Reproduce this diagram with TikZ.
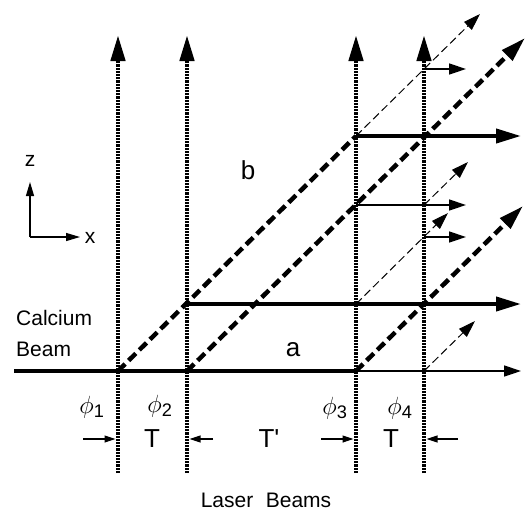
\documentclass[tikz,border=0pt]{standalone}
\usepackage{amsmath}
\usepackage{fontspec}
\setmainfont{Liberation Sans}
\newfontfamily\rawsans[Ligatures=ResetAll]{Liberation Sans}
\usetikzlibrary{arrows.meta}

\begin{document}
\begin{tikzpicture}[x=1pt,y=-1pt,
		laser/.style={line width=4.5pt, dash pattern=on 2.2pt off 1pt, -{Triangle[length=26pt,width=14pt]}},
		thickpath/.style={line width=4pt},
		thinpath/.style={line width=1.4pt},
		thickdashed/.style={line width=4.5pt, dash pattern=on 10pt off 5pt},
		thindashed/.style={line width=1pt, dash pattern=on 8pt off 4pt},
		bigtip/.style={-{Triangle[length=25pt,width=14pt]}},
		smalltip/.style={-{Triangle[length=17pt,width=11pt]}},
		dimarrow/.style={line width=1.1pt, -{Triangle[length=11pt,width=7pt]}},
		lbl/.style={inner sep=0pt, font=\fontsize{26}{30}\selectfont},
		smalllbl/.style={inner sep=0pt, font=\fontsize{21}{25}\selectfont}
	]
	\useasboundingbox (0,0) rectangle (526,514);
	% laser beams
	\foreach \bx/\nm in {118/1,187/2,356/3,424/4} {
		\coordinate (bot\nm) at (\bx,473);
		\coordinate (top\nm) at (\bx,35);
		\draw[laser] (bot\nm) -- (top\nm);
	}
	% crossing points of the atom paths
	\coordinate (in) at (14,371);
	\coordinate (a1) at (118,371);
	\coordinate (a2) at (187,371);
	\coordinate (a3) at (356,371);
	\coordinate (a4) at (424,371);
	\coordinate (aout) at (521,371);
	\coordinate (b2) at (187,304);
	\coordinate (b3) at (356,304);
	\coordinate (bout) at (521,304);
	\coordinate (c3) at (356,205);
	\coordinate (c4) at (424,205);
	\coordinate (cout) at (466,205);
	\coordinate (d3) at (356,136);
	\coordinate (dout) at (521,136);
	\coordinate (e4) at (424,237);
	\coordinate (eout) at (466,237);
	\coordinate (f4) at (424,69);
	\coordinate (fout) at (466,69);
	\coordinate (end1) at (480,14);
	\coordinate (end2) at (525,38);
	\coordinate (end3) at (523,206);
	\coordinate (end4) at (448,213);
	\coordinate (end5) at (468,162);
	\coordinate (end6) at (475,321);
	% deflected paths
	\draw[thickdashed] (a1) -- (d3);
	\draw[thickdashed, bigtip] (a2) -- (end2);
	\draw[thickdashed, bigtip] (a3) -- (end3);
	\draw[thindashed, smalltip] (d3) -- (end1);
	\draw[thindashed, smalltip] (b3) -- (end4);
	\draw[thindashed, smalltip] (c4) -- (end5);
	\draw[thindashed, smalltip] (a4) -- (end6);
	% undeflected paths
	\draw[thickpath] (in) -- (a3);
	\draw[thinpath, smalltip] (a3) -- (aout);
	\draw[thickpath, bigtip] (b2) -- (bout);
	\draw[thickpath, bigtip] (d3) -- (dout);
	\draw[thinpath, smalltip] (c3) -- (cout);
	\draw[thinpath, smalltip] (e4) -- (eout);
	\draw[thinpath, smalltip] (f4) -- (fout);
	% spacing of the beams
	\coordinate (m1) at (83,439);
	\coordinate (m2) at (213,439);
	\coordinate (m3) at (321,439);
	\coordinate (m4) at (458,439);
	\draw[dimarrow] (m1) -- (115.5,439);
	\draw[dimarrow] (m2) -- (189.5,439);
	\draw[dimarrow] (m3) -- (353.5,439);
	\draw[dimarrow] (m4) -- (426.5,439);
	\node[lbl] (T1) at (152,439) {T};
	\node[lbl] (T2) at (269,439) {T{\rawsans'}};
	\node[lbl] (T3) at (391,439) {T};
	\node[lbl] (phi1) at (92,407) {$\phi_{\text{1}}$};
	\node[lbl] (phi2) at (160,406) {$\phi_{\text{2}}$};
	\node[lbl] (phi3) at (335,408) {$\phi_{\text{3}}$};
	\node[lbl] (phi4) at (400,408) {$\phi_{\text{4}}$};
	\node[lbl] (a) at (293,350) {a};
	\node[lbl] (b) at (248,170) {b};
	\node[smalllbl, anchor=west] (calc) at (16,318) {Calcium};
	\node[smalllbl, anchor=west] (beam) at (16,349) {Beam};
	\node[smalllbl] (laserlbl) at (266,500) {Laser\hspace{0.6em}Beams};
	% axes
	\coordinate (o) at (30,237);
	\coordinate (zend) at (30,182);
	\coordinate (xend) at (80,237);
	\draw[line width=1.2pt, -{Triangle[length=14pt,width=8pt]}] (o) -- (zend);
	\draw[line width=1.2pt, -{Triangle[length=14pt,width=8pt]}] (o) -- (xend);
	\node[smalllbl] (zlbl) at (30,161) {z};
	\node[smalllbl] (xlbl) at (90,238) {x};
\end{tikzpicture}
\end{document}
